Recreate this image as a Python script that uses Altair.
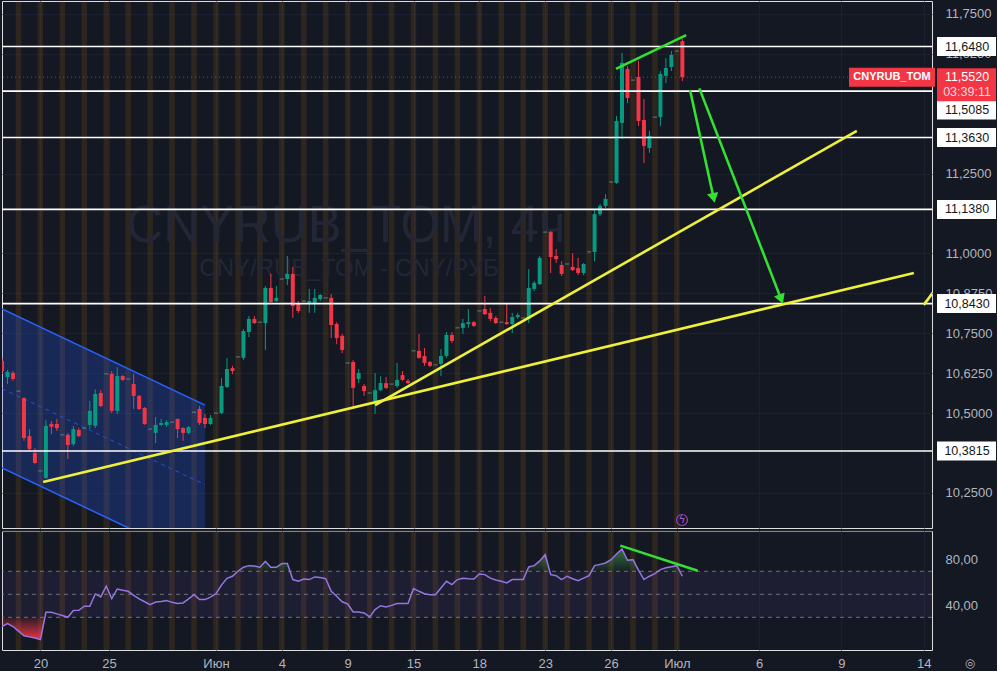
import json
import altair as alt
import pandas as pd

# ---------------- data ----------------
# 4h candles, bar index 0..124 (one line = one trading day of 4 bars)
opens = [10.663, 10.613, 10.626, 10.569,
         10.547, 10.428, 10.375, 10.319,
         10.297, 10.466, 10.466, 10.432,
         10.432, 10.403, 10.447, 10.453,
         10.463, 10.460, 10.563, 10.623,
         10.623, 10.507, 10.616, 10.607,
         10.591, 10.554, 10.516, 10.450,
         10.438, 10.463, 10.463, 10.472,
         10.482, 10.453, 10.438, 10.503,
         10.513, 10.485, 10.466, 10.500,
         10.500, 10.582, 10.641, 10.676,
         10.673, 10.754, 10.795, 10.785,
         10.782, 10.892, 10.851, 10.920,
         10.920, 10.936, 10.842, 10.851,
         10.845, 10.842, 10.857, 10.861,
         10.861, 10.779, 10.742, 10.657,
         10.660, 10.607, 10.585, 10.563,
         10.538, 10.572, 10.594, 10.591,
         10.585, 10.619, 10.601, 10.695,
         10.695, 10.679, 10.660, 10.651,
         10.654, 10.679, 10.745, 10.767,
         10.767, 10.779, 10.785, 10.820,
         10.826, 10.814, 10.798, 10.785,
         10.785, 10.779, 10.801, 10.798,
         10.795, 10.889, 10.904, 11.067,
         11.067, 10.992, 10.964, 10.967,
         10.958, 10.954, 10.939, 11.005,
         11.005, 11.123, 11.149, 11.224,
         11.221, 11.409, 11.578, 11.543,
         11.553, 11.418, 11.330, 11.427,
         11.427, 11.556, 11.584, 11.634,
         11.665]
highs = [10.673, 10.635, 10.632, 10.569,
         10.550, 10.450, 10.391, 10.319,
         10.478, 10.475, 10.482, 10.432,
         10.438, 10.460, 10.453, 10.453,
         10.538, 10.575, 10.572, 10.623,
         10.632, 10.644, 10.619, 10.607,
         10.623, 10.557, 10.519, 10.450,
         10.488, 10.482, 10.478, 10.472,
         10.482, 10.456, 10.460, 10.503,
         10.522, 10.497, 10.494, 10.500,
         10.610, 10.673, 10.648, 10.676,
         10.763, 10.804, 10.804, 10.785,
         10.898, 10.936, 10.898, 10.920,
         10.992, 10.958, 10.851, 10.851,
         10.889, 10.889, 10.873, 10.861,
         10.873, 10.785, 10.748, 10.657,
         10.666, 10.638, 10.591, 10.563,
         10.626, 10.616, 10.613, 10.591,
         10.657, 10.632, 10.607, 10.695,
         10.748, 10.704, 10.663, 10.651,
         10.701, 10.754, 10.754, 10.767,
         10.795, 10.826, 10.788, 10.820,
         10.867, 10.829, 10.804, 10.785,
         10.845, 10.814, 10.814, 10.798,
         10.951, 10.914, 10.992, 11.067,
         11.070, 11.014, 10.976, 10.967,
         11.001, 10.986, 10.970, 11.005,
         11.139, 11.155, 11.186, 11.224,
         11.431, 11.628, 11.587, 11.543,
         11.603, 11.484, 11.384, 11.427,
         11.571, 11.612, 11.634, 11.634,
         11.672]
lows = [10.626, 10.591, 10.601, 10.569,
        10.413, 10.381, 10.341, 10.319,
        10.294, 10.434, 10.444, 10.432,
        10.356, 10.397, 10.425, 10.453,
        10.450, 10.453, 10.519, 10.623,
        10.500, 10.497, 10.601, 10.607,
        10.513, 10.510, 10.463, 10.450,
        10.406, 10.460, 10.457, 10.472,
        10.422, 10.413, 10.434, 10.503,
        10.463, 10.453, 10.463, 10.500,
        10.497, 10.579, 10.622, 10.676,
        10.666, 10.738, 10.779, 10.785,
        10.698, 10.845, 10.848, 10.920,
        10.901, 10.798, 10.814, 10.851,
        10.814, 10.814, 10.851, 10.861,
        10.735, 10.716, 10.688, 10.657,
        10.516, 10.594, 10.554, 10.563,
        10.497, 10.569, 10.575, 10.591,
        10.579, 10.601, 10.591, 10.695,
        10.670, 10.648, 10.644, 10.651,
        10.616, 10.673, 10.719, 10.767,
        10.748, 10.767, 10.770, 10.820,
        10.807, 10.788, 10.779, 10.785,
        10.776, 10.751, 10.795, 10.798,
        10.782, 10.882, 10.901, 11.067,
        10.939, 10.970, 10.929, 10.967,
        10.945, 10.932, 10.932, 11.005,
        10.976, 11.117, 11.142, 11.224,
        11.218, 11.358, 11.471, 11.543,
        11.399, 11.283, 11.315, 11.427,
        11.399, 11.534, 11.571, 11.634,
        11.540]
closes = [10.632, 10.629, 10.607, 10.569,
          10.422, 10.388, 10.344, 10.319,
          10.460, 10.457, 10.453, 10.432,
          10.400, 10.450, 10.428, 10.453,
          10.507, 10.560, 10.522, 10.623,
          10.507, 10.616, 10.604, 10.607,
          10.554, 10.513, 10.466, 10.450,
          10.463, 10.469, 10.472, 10.472,
          10.450, 10.438, 10.456, 10.503,
          10.469, 10.466, 10.485, 10.500,
          10.585, 10.638, 10.632, 10.676,
          10.757, 10.795, 10.782, 10.785,
          10.892, 10.848, 10.861, 10.920,
          10.936, 10.835, 10.820, 10.851,
          10.851, 10.861, 10.870, 10.861,
          10.776, 10.735, 10.698, 10.657,
          10.579, 10.626, 10.569, 10.563,
          10.572, 10.594, 10.579, 10.591,
          10.604, 10.604, 10.594, 10.695,
          10.673, 10.657, 10.648, 10.651,
          10.679, 10.745, 10.726, 10.767,
          10.782, 10.785, 10.773, 10.820,
          10.810, 10.795, 10.782, 10.785,
          10.779, 10.801, 10.807, 10.798,
          10.892, 10.908, 10.986, 11.067,
          10.989, 10.982, 10.936, 10.967,
          10.948, 10.939, 10.967, 11.005,
          11.123, 11.149, 11.171, 11.224,
          11.415, 11.597, 11.487, 11.543,
          11.415, 11.337, 11.368, 11.427,
          11.562, 11.581, 11.622, 11.634,
          11.552]
rsi = [22, 24.5, 22, 18,
       14, 13, 12, 10.6,
       34.3, 34.3, 33, 31.5,
       30, 36, 36.1, 39.6,
       39.6, 50.3, 47.7, 57,
       46.2, 54.6, 53.5, 52.6,
       49, 46, 43.5, 41,
       43.3, 43.8, 44.5, 43,
       42, 42.5, 46, 49.7,
       45.4, 45.4, 47.5, 50.5,
       58, 63.9, 65.7, 70,
       73.5, 74.9, 74.5, 73.5,
       78.7, 73.5, 73.5, 76.7,
       76.7, 62.8, 61.3, 63.3,
       62.8, 65.1, 64.5, 63.5,
       52.6, 48.3, 43.5, 41.6,
       34.6, 34.6, 33.8, 30.3,
       36.7, 40.1, 39, 40.4,
       41.9, 41.9, 42, 54.9,
       52.6, 50.5, 49.7, 49.7,
       55.5, 61.3, 58.4, 62.8,
       63.9, 63.5, 63.3, 67.7,
       67.1, 64, 62.5, 61.3,
       59.9, 62.8, 62.8, 62.8,
       73.8, 74.9, 79, 84.5,
       67.1, 66.2, 62.8, 65.7,
       63.5, 61.9, 64, 66.2,
       74.9, 76, 77.2, 80.1,
       85, 89.4, 79.6, 80.1,
       71, 62.8, 65.7, 68,
       71.5, 73, 74, 74.9,
       65.7]

# highlighted session bars (one per trading day)
band_bars = [3, 7, 11, 15, 19, 23, 27, 31, 35, 39, 43, 47, 51, 55, 59, 63,
             67, 71, 75, 79, 83, 87, 91, 95, 99, 103, 107, 111, 115, 119, 123]

levels = [11.648, 11.5085, 11.363, 11.138, 10.843, 10.3815]
last_price = 11.552
countdown = "03:39:11"
symbol = "CNYRUB_TOM"
price_ticks = [11.75, 11.625, 11.25, 11.0, 10.875, 10.75, 10.625, 10.5, 10.25]
rsi_ticks = [80, 40]
rsi_bands = [30, 50, 70]
date_pos = [7, 19.5, 39, 51, 63, 75, 87, 99, 111, 123, 138, 153, 168]
date_lbl = ["20", "25", "Июн", "4", "9", "15", "18", "23", "26", "Июл", "6", "9", "14"]

# drawings
channel_x = [0, 37]
channel_upper = [10.826, 10.525]
channel_lower = [10.328, 10.027]
channel_mid = [10.577, 10.276]
trend_a_x, trend_a_y = [7.5, 166.2], [10.284, 10.939]
trend_b_x, trend_b_y = [68.0, 155.8], [10.525, 11.384]
trend_c_x, trend_c_y = [168.0, 170.4], [10.839, 10.895]
div_x, div_y = [111.9, 124.7], [11.578, 11.684]
arrow1_x, arrow1_y = [125.4, 129.7], [11.512, 11.174]
arrow2_x, arrow2_y = [127.1, 142.0], [11.517, 10.857]
rsi_div_x, rsi_div_y = [112.7, 126.8], [92.3, 70.5]

# ---------------- style ----------------
BG = "#141823"
UP = "#089981"
DOWN = "#f23645"
TXT = "#b2b5be"
GRID = "#1c2030"
YEL = "#eef03a"
GRN = "#33e033"
BLUE = "#2962ff"
FONT = "Liberation Sans"

W = 930
H_PRICE = 527
H_RSI = 119
xs = alt.Scale(domain=[0, 169.5], nice=False, zero=False, padding=0)
ps = alt.Scale(domain=[10.1402, 11.7907], nice=False, zero=False, padding=0)
rs = alt.Scale(domain=[1.6, 105], nice=False, zero=False, padding=0)

comma4 = "replace(format(datum.value, '.4f'), '.', ',')"
comma2 = "replace(format(datum.value, '.2f'), '.', ',')"
date_expr = "%s[indexof(%s, datum.value)]" % (
    json.dumps(date_lbl, ensure_ascii=False), json.dumps(date_pos))

ax_x_price = alt.Axis(values=date_pos, grid=True, gridColor=GRID, labels=False,
                      ticks=False, domain=False, title=None)
ax_y_price = alt.Axis(orient="right", values=price_ticks, labelExpr=comma4, grid=True,
                      gridColor=GRID, domain=False, ticks=False, labelColor=TXT,
                      labelFontSize=13, labelFont=FONT, labelPadding=13,
                      labelOverlap=False, title=None)
ax_x_rsi = alt.Axis(values=date_pos, labelExpr=date_expr, grid=True, gridColor=GRID,
                    ticks=False, domain=False, labelColor=TXT, labelFontSize=13,
                    labelFont=FONT, labelPadding=7, labelOverlap=False,
                    labelFlush=False, title=None)
ax_y_rsi = alt.Axis(orient="right", values=rsi_ticks, labelExpr=comma2, grid=False,
                    domain=False, ticks=False, labelColor=TXT, labelFontSize=13,
                    labelFont=FONT, labelPadding=13, title=None)


def PX(f):
    return alt.X(f, type="quantitative", scale=xs, axis=ax_x_price, title=None)


def PY(f):
    return alt.Y(f, type="quantitative", scale=ps, axis=ax_y_price, title=None)


def RX(f):
    return alt.X(f, type="quantitative", scale=xs, axis=ax_x_rsi, title=None)


def RY(f):
    return alt.Y(f, type="quantitative", scale=rs, axis=ax_y_rsi, title=None)


n = len(opens)
candles = pd.DataFrame({"bar": list(range(n)), "o": opens, "h": highs,
                        "l": lows, "c": closes})
candles["dir"] = ["up" if c >= o else "down" for o, c in zip(opens, closes)]
bodies = candles[candles.o != candles.c]
dojis = candles[candles.o == candles.c]
col = alt.Color("dir:N", scale=alt.Scale(domain=["up", "down"], range=[UP, DOWN]),
                legend=None)

bands_df = pd.DataFrame({"bar": band_bars})


def bands(XF):
    return alt.Chart(bands_df).transform_calculate(
        b0="datum.bar - 0.5", b1="datum.bar + 0.5"
    ).mark_rect(color="#ff9800", opacity=0.11, clip=True).encode(x=XF("b0"), x2="b1:Q")


def seg_df(xv, yv):
    return pd.DataFrame({"bar": xv, "p": yv})


# ---------------- price panel ----------------
chan_df = pd.DataFrame({"bar": channel_x, "up": channel_upper, "lo": channel_lower,
                        "mid": channel_mid})
chan_fill = alt.Chart(chan_df).mark_area(color=BLUE, opacity=0.24, clip=True).encode(
    x=PX("bar"), y=PY("up"), y2="lo:Q")
chan_up = alt.Chart(chan_df).mark_line(color=BLUE, strokeWidth=1.5, clip=True).encode(
    x=PX("bar"), y=PY("up"))
chan_lo = alt.Chart(chan_df).mark_line(color=BLUE, strokeWidth=1.5, clip=True).encode(
    x=PX("bar"), y=PY("lo"))
chan_mid = alt.Chart(chan_df).mark_line(color=BLUE, strokeWidth=1, strokeDash=[4, 4],
                                        opacity=0.7, clip=True).encode(
    x=PX("bar"), y=PY("mid"))

one = pd.DataFrame({"a": [0]})
wm1 = alt.Chart(one).mark_text(text="CNYRUB_TOM, 4ч", font=FONT, fontSize=51,
                               color="#232735", align="center", baseline="middle").encode(
    x=alt.value(344), y=alt.value(226))
wm2 = alt.Chart(one).mark_text(text="CNY/RUB_TOM - CNY/РУБ", font=FONT, fontSize=24,
                               color="#232735", align="center", baseline="middle").encode(
    x=alt.value(347), y=alt.value(268))

wicks = alt.Chart(candles).mark_rule(strokeWidth=1, clip=True).encode(
    x=PX("bar"), y=PY("l"), y2="h:Q", color=col)
body = alt.Chart(bodies).mark_bar(width=4, clip=True).encode(
    x=PX("bar"), y=PY("o"), y2="c:Q", color=col)
doji = alt.Chart(dojis).mark_tick(orient="horizontal", size=4, thickness=1,
                                  color="#5d8f88", opacity=0.9, clip=True).encode(
    x=PX("bar"), y=PY("c"))

lv_df = pd.DataFrame({"lvl": levels,
                      "lbl": [("%.4f" % v).replace(".", ",") for v in levels]})
lv_rules = alt.Chart(lv_df).mark_rule(color="white", strokeWidth=1.6).encode(y=PY("lvl"))
last_df = pd.DataFrame({"p": [last_price],
                        "lbl": [("%.4f" % last_price).replace(".", ",")],
                        "cd": [countdown], "sym": [symbol]})
last_rule = alt.Chart(last_df).mark_rule(color=DOWN, strokeDash=[1, 3], opacity=0.7).encode(
    y=PY("p"))

trend_df = pd.concat([seg_df(trend_a_x, trend_a_y).assign(id="a"),
                      seg_df(trend_b_x, trend_b_y).assign(id="b"),
                      seg_df(trend_c_x, trend_c_y).assign(id="c")])
trends = alt.Chart(trend_df).mark_line(color=YEL, strokeWidth=2.6, clip=True).encode(
    x=PX("bar"), y=PY("p"), detail="id:N")

green_df = pd.concat([seg_df(div_x, div_y).assign(id="d"),
                      seg_df(arrow1_x, arrow1_y).assign(id="a1"),
                      seg_df(arrow2_x, arrow2_y).assign(id="a2")])
greens = alt.Chart(green_df).mark_line(color=GRN, strokeWidth=2.6, clip=True).encode(
    x=PX("bar"), y=PY("p"), detail="id:N")
head1 = alt.Chart(seg_df(arrow1_x[1:], arrow1_y[1:])).mark_point(
    shape="triangle-up", size=130, filled=True, color=GRN, opacity=1, angle=168).encode(
    x=PX("bar"), y=PY("p"))
head2 = alt.Chart(seg_df(arrow2_x[1:], arrow2_y[1:])).mark_point(
    shape="triangle-up", size=130, filled=True, color=GRN, opacity=1, angle=159).encode(
    x=PX("bar"), y=PY("p"))

BOX = "M-1,-0.322L1,-0.322L1,0.322L-1,0.322Z"
PBOX = "M-1,-0.305L1,-0.305L1,0.814L-1,0.814Z"
SBOX = "M-1,-0.221L1,-0.221L1,0.221L-1,0.221Z"
lv_main = lv_df[lv_df.lvl != 11.5085]
lv_shift = lv_df[lv_df.lvl == 11.5085]
box_main = alt.Chart(lv_main).mark_point(shape=BOX, size=3481, filled=True, color="white",
                                         opacity=1, strokeWidth=0).encode(
    x=alt.value(964.5), y=PY("lvl"))
txt_main = alt.Chart(lv_main).mark_text(font=FONT, fontSize=12.5, color="#131722",
                                        align="center", baseline="middle").encode(
    x=alt.value(965), y=PY("lvl"), text="lbl:N")
box_shift = alt.Chart(lv_shift).mark_point(shape=BOX, size=3481, filled=True, color="white",
                                           opacity=1, strokeWidth=0, yOffset=19).encode(
    x=alt.value(964.5), y=PY("lvl"))
txt_shift = alt.Chart(lv_shift).mark_text(font=FONT, fontSize=12.5, color="#131722",
                                          align="center", baseline="middle", dy=19).encode(
    x=alt.value(965), y=PY("lvl"), text="lbl:N")
pbox = alt.Chart(last_df).mark_point(shape=PBOX, size=3481, filled=True, color=DOWN,
                                     opacity=1, strokeWidth=0).encode(
    x=alt.value(964.5), y=PY("p"))
ptxt = alt.Chart(last_df).mark_text(font=FONT, fontSize=12.5, color="white",
                                    align="center", baseline="middle").encode(
    x=alt.value(965), y=PY("p"), text="lbl:N")
ctxt = alt.Chart(last_df).mark_text(font=FONT, fontSize=12.5, color="#ffd6d9",
                                    align="center", baseline="middle", dy=15).encode(
    x=alt.value(965), y=PY("p"), text="cd:N")
sbox = alt.Chart(last_df).mark_point(shape=SBOX, size=7396, filled=True, color=DOWN,
                                     opacity=1, strokeWidth=0).encode(
    x=alt.value(890), y=PY("p"))
stxt = alt.Chart(last_df).mark_text(font=FONT, fontSize=11, fontWeight="bold", color="white",
                                    align="center", baseline="middle").encode(
    x=alt.value(890), y=PY("p"), text="sym:N")
bolt_c = alt.Chart(one).mark_point(shape="circle", size=120, filled=False, color="#9c3fc0",
                                   strokeWidth=1.2, opacity=1).encode(
    x=alt.value(680), y=alt.value(519))
bolt_t = alt.Chart(one).mark_text(text="ϟ", fontSize=10, color="#b05ad0", font="DejaVu Sans",
                                  align="center", baseline="middle").encode(
    x=alt.value(680), y=alt.value(519))

price = alt.layer(
    bands(PX), chan_fill, chan_up, chan_lo, chan_mid, wm1, wm2,
    wicks, body, doji, lv_rules, last_rule, trends, greens, head1, head2,
    box_main, txt_main, box_shift, txt_shift, pbox, ptxt, ctxt, sbox, stxt,
    bolt_c, bolt_t,
).properties(width=W, height=H_PRICE)

# ---------------- RSI panel ----------------
rsi_df = pd.DataFrame({"bar": list(range(n)), "rsi": rsi})
rsi_df["lo"] = [min(v, 30) for v in rsi]
rsi_df["hi"] = [max(v, 70) for v in rsi]
rsi_df["b30"] = 30
rsi_df["b70"] = 70
zone_df = pd.DataFrame({"x0": [0], "x1": [169.5], "lo": [30], "hi": [70]})
zone = alt.Chart(zone_df).mark_rect(color="#7e57c2", opacity=0.1).encode(
    x=RX("x0"), x2="x1:Q", y=RY("lo"), y2="hi:Q")
dash_df = pd.DataFrame({"v": rsi_bands})
dashes = alt.Chart(dash_df).mark_rule(color="#8a8d96", strokeDash=[4, 4], strokeWidth=1,
                                      opacity=0.75).encode(y=RY("v"))
red_grad = {"gradient": "linear", "x1": 0, "x2": 0, "y1": 0, "y2": 1,
            "stops": [{"offset": 0, "color": "rgba(242,54,69,0.1)"},
                      {"offset": 1, "color": "rgba(242,54,69,0.95)"}]}
grn_grad = {"gradient": "linear", "x1": 0, "x2": 0, "y1": 0, "y2": 1,
            "stops": [{"offset": 0, "color": "rgba(76,175,80,0.6)"},
                      {"offset": 1, "color": "rgba(76,175,80,0.05)"}]}
red_area = alt.Chart(rsi_df).mark_area(color=red_grad, clip=True).encode(
    x=RX("bar"), y=RY("lo"), y2="b30:Q")
grn_area = alt.Chart(rsi_df).mark_area(color=grn_grad, clip=True).encode(
    x=RX("bar"), y=RY("hi"), y2="b70:Q")
rsi_line = alt.Chart(rsi_df).mark_line(color="#9575e0", strokeWidth=1.5, clip=True).encode(
    x=RX("bar"), y=RY("rsi"))
rsi_div = alt.Chart(pd.DataFrame({"bar": rsi_div_x, "v": rsi_div_y})).mark_line(
    color=GRN, strokeWidth=2.6).encode(x=RX("bar"), y=RY("v"))
sep = alt.Chart(one).mark_rule(color="#2a2e39", strokeWidth=1).encode(y=alt.value(0))
gear = alt.Chart(one).mark_text(text="◎", font="DejaVu Sans", fontSize=12, color=TXT,
                                align="center", baseline="middle").encode(
    x=alt.value(968), y=alt.value(132))

rsi_chart = alt.layer(
    bands(RX), zone, dashes, red_area, grn_area, rsi_line, rsi_div, sep, gear,
).properties(width=W, height=H_RSI)

chart = alt.vconcat(price, rsi_chart, spacing=1).properties(
    background=BG, padding=0
).configure_view(stroke=None).configure(font=FONT)

chart.save("out.html", embed_options={"renderer": "svg", "actions": False})
